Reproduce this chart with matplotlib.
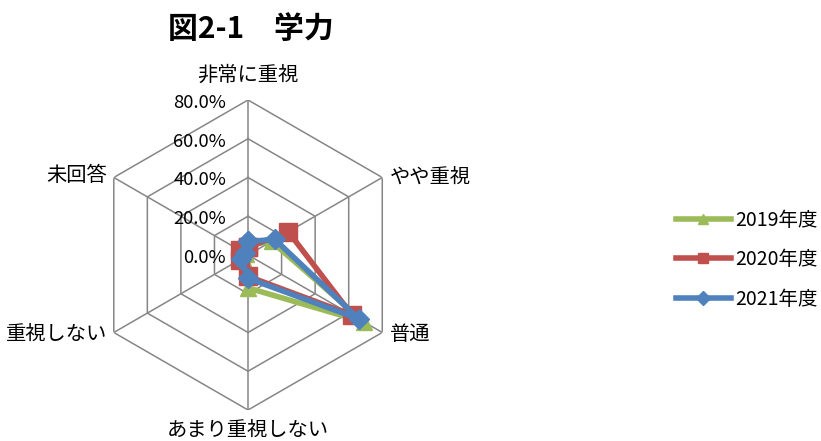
import numpy as np
import matplotlib
matplotlib.use('Agg')
import matplotlib.pyplot as plt
from matplotlib.lines import Line2D
from matplotlib.transforms import offset_copy

plt.rcParams['font.family'] = ['Noto Sans CJK JP', 'DejaVu Sans']

# Survey categories, clockwise from the top
categories = ['非常に重視', 'やや重視', '普通', 'あまり重視しない', '重視しない', '未回答']

# Share of answers (%)
y2019 = [5.0, 14.0, 69.0, 17.0, 3.0, 1.0]
y2020 = [4.0, 24.0, 62.0, 11.0, 5.0, 5.0]
y2021 = [7.0, 16.0, 66.0, 12.0, 4.0, 2.0]

series_names = ['2019年度', '2020年度', '2021年度']
series_values = [y2019, y2020, y2021]
colors = ['#9BBB59', '#C0504D', '#4F81BD']
markers = ['^', 's', 'D']
marker_sizes = [12, 12.5, 10]

r_ticks = [0, 20, 40, 60, 80]
r_labels = ['0.0%', '20.0%', '40.0%', '60.0%', '80.0%']

n = len(categories)
angles = np.linspace(0, 2 * np.pi, n, endpoint=False)

fig = plt.figure(figsize=(8.21, 4.41), dpi=100)
ax = fig.add_axes([0.1133, 0.0703, 0.3776, 0.703], projection='polar')
ax.set_theta_zero_location('N')
ax.set_theta_direction(-1)
ax.set_ylim(0, 80)
ax.grid(False)
ax.spines['polar'].set_visible(False)
ax.set_xticks([])
ax.set_yticks([])
ax.patch.set_visible(False)

# hexagonal rings and spokes
closed = np.append(angles, angles[0])
for r in r_ticks[1:]:
    ax.plot(closed, [r] * (n + 1), color='#868686', lw=1.1, zorder=1)
for a in angles:
    ax.plot([a, a], [0, 80], color='#868686', lw=1.1, zorder=1)

# radial value labels to the left of the top spoke
lab_tr = offset_copy(ax.transData, fig=fig, x=-22, y=-3, units='dots')
for r, lab in zip(r_ticks, r_labels):
    ax.text(0, r, lab, transform=lab_tr, ha='right', va='center', fontsize=13.3)

# category labels around the hexagon
cat_pos = [
    (0, 0, 14, 'center', 'bottom'),
    (1, 8, 0, 'left', 'center'),
    (2, 8, -2, 'left', 'center'),
    (3, 0, -10, 'center', 'top'),
    (4, -7, -2, 'right', 'center'),
    (5, -7, 2, 'right', 'center'),
]
for i, dx, dy, ha, va in cat_pos:
    tr = offset_copy(ax.transData, fig=fig, x=dx, y=dy, units='dots')
    ax.text(angles[i], 80, categories[i], transform=tr, ha=ha, va=va, fontsize=14.6)

for name, vals, c, m, ms in zip(series_names, series_values, colors, markers, marker_sizes):
    ax.plot(closed, np.append(vals, vals[0]), color=c, lw=4, marker=m,
            markersize=ms, markeredgecolor=c, label=name, zorder=3, clip_on=False)

handles = [Line2D([0], [0], color=c, lw=4, marker=m, markersize=7, markeredgecolor=c)
           for c, m in zip(colors, markers)]
fig.legend(handles, series_names, loc='center left', bbox_to_anchor=(0.8015, 0.411),
           frameon=False, fontsize=14, handlelength=2.83, handletextpad=0.25,
           labelspacing=0.95)

fig.text(0.305, 0.935, '図2-1　学力', ha='center', va='center', fontsize=21.5,
         fontweight='bold')

fig.savefig('out.png', dpi=100)
